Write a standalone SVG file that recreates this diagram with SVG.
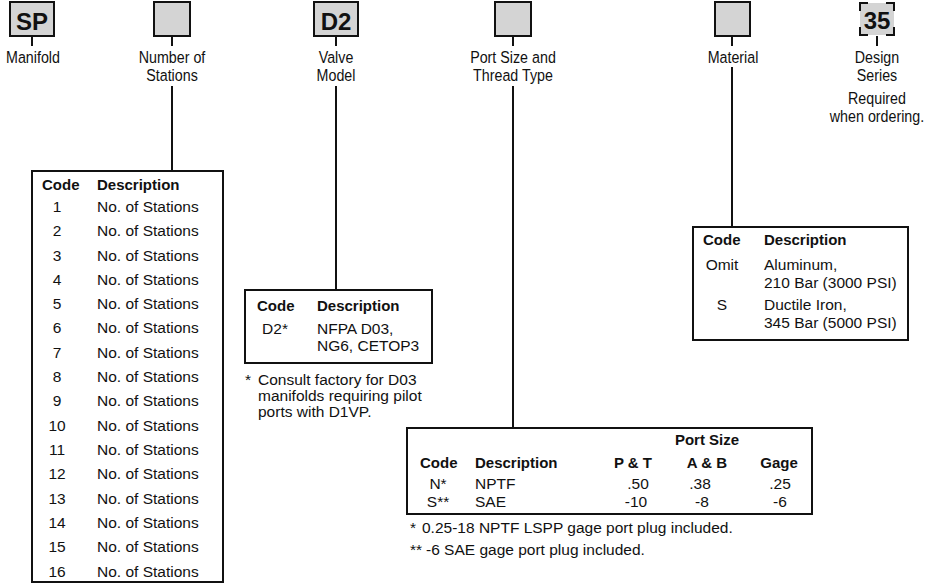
<svg xmlns="http://www.w3.org/2000/svg" width="930" height="585" viewBox="0 0 930 585">
<style>
.bg{fill:#ffffff}
.box{fill:#d4d4d4;stroke:#111;stroke-width:2}
.tbl{fill:none;stroke:#111;stroke-width:2}
.ln{stroke:#111;stroke-width:2;fill:none}
.big{font-family:"Liberation Sans",Arial,sans-serif;font-weight:bold;font-size:24px;fill:#111;text-anchor:middle}
.lab{font-family:"Liberation Sans",Arial,sans-serif;font-size:17px;fill:#111;text-anchor:middle}
.t{font-family:"Liberation Sans",Arial,sans-serif;font-size:15.5px;fill:#111}
.b{font-family:"Liberation Sans",Arial,sans-serif;font-size:15px;font-weight:bold;fill:#111}
.m{text-anchor:middle}
</style>
<rect class="bg" x="0" y="0" width="930" height="585"/>

<g id="connectors">
<line class="ln" x1="32" y1="36" x2="32" y2="46"/>
<line class="ln" x1="172" y1="36" x2="172" y2="46"/>
<line class="ln" x1="172" y1="86" x2="172" y2="171"/>
<line class="ln" x1="336" y1="36" x2="336" y2="46"/>
<line class="ln" x1="336" y1="86" x2="336" y2="290"/>
<line class="ln" x1="513" y1="36" x2="513" y2="46"/>
<line class="ln" x1="513" y1="86" x2="513" y2="428"/>
<line class="ln" x1="732" y1="36" x2="732" y2="46"/>
<line class="ln" x1="732" y1="67" x2="732" y2="227"/>
<line class="ln" x1="877" y1="36" x2="877" y2="46"/>
</g>

<g id="node-manifold">
<rect class="box" x="10" y="2" width="44" height="34"/>
<text class="big" x="32" y="30">SP</text>
<text class="lab" transform="translate(33,63) scale(0.84,1)">Manifold</text>
</g>

<g id="node-stations">
<rect class="box" x="154" y="2" width="36" height="34"/>
<text class="lab" transform="translate(172,63) scale(0.84,1)">Number of</text>
<text class="lab" transform="translate(172,81) scale(0.84,1)">Stations</text>
</g>

<g id="node-valve">
<rect class="box" x="314" y="2" width="44" height="34"/>
<text class="big" x="336" y="30">D2</text>
<text class="lab" transform="translate(336,63) scale(0.84,1)">Valve</text>
<text class="lab" transform="translate(336,81) scale(0.84,1)">Model</text>
</g>

<g id="node-port">
<rect class="box" x="495" y="2" width="36" height="34"/>
<text class="lab" transform="translate(513,63) scale(0.84,1)">Port Size and</text>
<text class="lab" transform="translate(513,81) scale(0.84,1)">Thread Type</text>
</g>

<g id="node-material">
<rect class="box" x="715" y="2" width="35" height="34"/>
<text class="lab" transform="translate(733,63) scale(0.84,1)">Material</text>
</g>

<g id="node-design">
<rect x="860" y="3" width="34" height="32" fill="#d4d4d4"/>
<path class="ln" d="M860,11 V3 H868 M886,3 H894 V11 M894,27 V35 H886 M868,35 H860 V27"/>
<text class="big" x="877" y="29">35</text>
<text class="lab" transform="translate(877,63) scale(0.84,1)">Design</text>
<text class="lab" transform="translate(877,81) scale(0.84,1)">Series</text>
<text class="lab" transform="translate(877,104) scale(0.84,1)">Required</text>
<text class="lab" transform="translate(877,122) scale(0.84,1)">when ordering.</text>
</g>

<g id="table-stations">
<rect class="tbl" x="32" y="171" width="191" height="411"/>
<text class="b" x="42" y="190">Code</text>
<text class="b" x="97" y="190">Description</text>
<g class="t">
<text class="m" x="57" y="212">1</text><text x="97" y="212">No. of Stations</text>
<text class="m" x="57" y="236">2</text><text x="97" y="236">No. of Stations</text>
<text class="m" x="57" y="261">3</text><text x="97" y="261">No. of Stations</text>
<text class="m" x="57" y="285">4</text><text x="97" y="285">No. of Stations</text>
<text class="m" x="57" y="309">5</text><text x="97" y="309">No. of Stations</text>
<text class="m" x="57" y="333">6</text><text x="97" y="333">No. of Stations</text>
<text class="m" x="57" y="358">7</text><text x="97" y="358">No. of Stations</text>
<text class="m" x="57" y="382">8</text><text x="97" y="382">No. of Stations</text>
<text class="m" x="57" y="406">9</text><text x="97" y="406">No. of Stations</text>
<text class="m" x="57" y="431">10</text><text x="97" y="431">No. of Stations</text>
<text class="m" x="57" y="455">11</text><text x="97" y="455">No. of Stations</text>
<text class="m" x="57" y="479">12</text><text x="97" y="479">No. of Stations</text>
<text class="m" x="57" y="504">13</text><text x="97" y="504">No. of Stations</text>
<text class="m" x="57" y="528">14</text><text x="97" y="528">No. of Stations</text>
<text class="m" x="57" y="552">15</text><text x="97" y="552">No. of Stations</text>
<text class="m" x="57" y="577">16</text><text x="97" y="577">No. of Stations</text>
</g>
</g>

<g id="table-valve">
<rect class="tbl" x="245" y="290" width="187" height="73"/>
<text class="b" x="257" y="311">Code</text>
<text class="b" x="317" y="311">Description</text>
<text class="t m" x="275" y="334">D2*</text>
<text class="t" x="317" y="334">NFPA D03,</text>
<text class="t" x="317" y="351">NG6, CETOP3</text>
<text class="t" x="245" y="385">*</text>
<text class="t" x="258" y="385">Consult factory for D03</text>
<text class="t" x="258" y="401">manifolds requiring pilot</text>
<text class="t" x="258" y="417">ports with D1VP.</text>
</g>

<g id="table-material">
<rect class="tbl" x="693" y="227" width="215" height="113"/>
<text class="b" x="703" y="245">Code</text>
<text class="b" x="764" y="245">Description</text>
<text class="t m" x="722" y="270">Omit</text>
<text class="t" x="764" y="270">Aluminum,</text>
<text class="t" x="764" y="288">210 Bar (3000 PSI)</text>
<text class="t m" x="722" y="310">S</text>
<text class="t" x="764" y="310">Ductile Iron,</text>
<text class="t" x="764" y="328">345 Bar (5000 PSI)</text>
</g>

<g id="table-port">
<rect class="tbl" x="407" y="428" width="405" height="86"/>
<text class="b m" x="707" y="445">Port Size</text>
<text class="b" x="420" y="468">Code</text>
<text class="b" x="475" y="468">Description</text>
<text class="b m" x="633" y="468">P &amp; T</text>
<text class="b m" x="707" y="468">A &amp; B</text>
<text class="b m" x="779" y="468">Gage</text>
<text class="t m" x="438" y="489">N*</text>
<text class="t" x="475" y="489">NPTF</text>
<text class="t m" x="638" y="489">.50</text>
<text class="t m" x="700" y="489">.38</text>
<text class="t m" x="780" y="489">.25</text>
<text class="t m" x="438" y="507">S**</text>
<text class="t" x="475" y="507">SAE</text>
<text class="t m" x="636" y="507">-10</text>
<text class="t m" x="702" y="507">-8</text>
<text class="t m" x="780" y="507">-6</text>
<text class="t" x="410" y="533">*</text>
<text class="t" x="422" y="533">0.25-18 NPTF LSPP gage port plug included.</text>
<text class="t" x="410" y="555">**</text>
<text class="t" x="426" y="555">-6 SAE gage port plug included.</text>
</g>
</svg>
